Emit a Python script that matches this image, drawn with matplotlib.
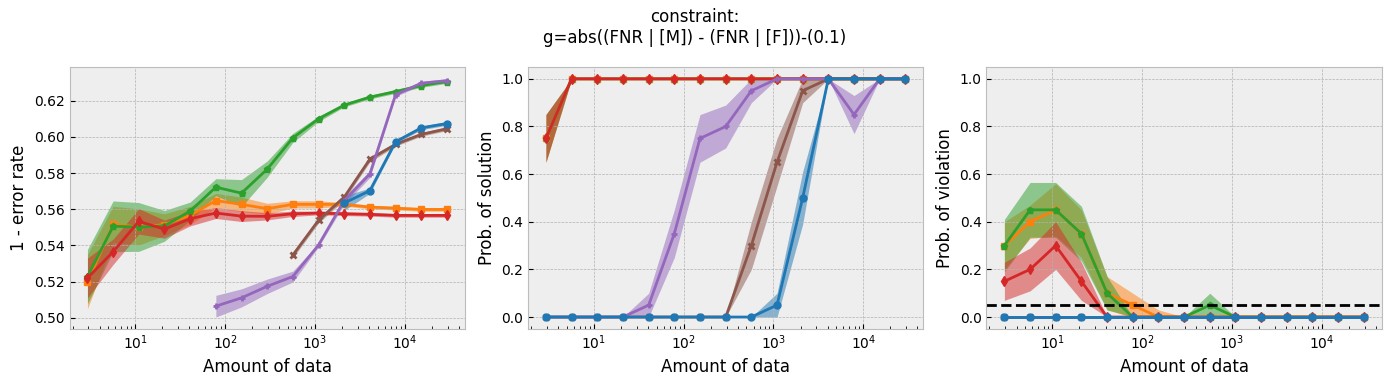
import numpy as np
import matplotlib
matplotlib.use("Agg")
import matplotlib.pyplot as plt

nan = np.nan

# amount of data (x)
n_data = [2.93, 5.66, 10.9, 21.1, 40.8, 78.7, 152, 294, 567, 1095, 2114, 4083, 7884, 15224, 29300]

# drawing order: later ones end up on top
names = ["orange", "green", "red", "brown", "purple", "blue"]
colors = {"blue": "#1f77b4", "orange": "#ff7f0e", "green": "#2ca02c",
          "red": "#d62728", "purple": "#9467bd", "brown": "#8c564b"}
markers = {"blue": "o", "orange": "s", "green": "p", "red": "d", "purple": "+", "brown": "x"}

# 1 - error rate
acc_mean = {
    "blue":   [nan]*10 + [0.5634, 0.5703, 0.5973, 0.6050, 0.6074],
    "orange": [0.520, 0.5517, 0.5502, 0.5515, 0.5566, 0.5648, 0.5627, 0.5603, 0.5627, 0.5627, 0.5627, 0.5612, 0.5606, 0.5599, 0.5599],
    "green":  [0.5228, 0.5506, 0.5502, 0.5508, 0.559, 0.5722, 0.5689, 0.5822, 0.5995, 0.610, 0.6176, 0.622, 0.6251, 0.6284, 0.6306],
    "red":    [0.522, 0.5365, 0.5533, 0.549, 0.5548, 0.5579, 0.5562, 0.5561, 0.5575, 0.5579, 0.5575, 0.5572, 0.5566, 0.5566, 0.5566],
    "purple": [nan]*5 + [0.5064, 0.511, 0.5174, 0.5228, 0.5402, 0.5648, 0.5795, 0.6233, 0.6297, 0.6311],
    "brown":  [nan]*8 + [0.5347, 0.5539, 0.5667, 0.5877, 0.5959, 0.6014, 0.6045],
}
acc_err = {
    "blue":   [nan]*10 + [0.004, 0.0015, 0.001, 0.001, 0.001],
    "orange": [0.015, 0.010, 0.010, 0.006, 0.005, 0.004, 0.004, 0.003, 0.002, 0.002, 0.001, 0.001, 0.001, 0.001, 0.001],
    "green":  [0.015, 0.014, 0.0135, 0.0085, 0.005, 0.0047, 0.0075, 0.0045, 0.0025, 0.0015, 0.001, 0.001, 0.001, 0.001, 0.001],
    "red":    [0.011, 0.007, 0.007, 0.005, 0.004, 0.003, 0.003, 0.002, 0.0015, 0.001, 0.001, 0.001, 0.001, 0.001, 0.001],
    "purple": [nan]*5 + [0.006, 0.005, 0.004, 0.003, 0.001, 0.002, 0.002, 0.001, 0.001, 0.001],
    "brown":  [nan]*8 + [0.0015, 0.0015, 0.0015, 0.0015, 0.001, 0.001, 0.001],
}

# probability of solution
sol_mean = {
    "blue":   [0, 0, 0, 0, 0, 0, 0, 0, 0, 0.05, 0.50, 1, 1, 1, 1],
    "orange": [0.75] + [1]*14,
    "green":  [0.75] + [1]*14,
    "red":    [0.75] + [1]*14,
    "purple": [0, 0, 0, 0, 0.05, 0.35, 0.75, 0.80, 0.95, 1, 1, 1, 0.85, 1, 1],
    "brown":  [0, 0, 0, 0, 0, 0, 0, 0, 0.30, 0.65, 0.95, 1, 1, 1, 1],
}
sol_err = {
    "blue":   [0]*9 + [0.05, 0.11, 0, 0, 0, 0],
    "orange": [0.1] + [0]*14,
    "green":  [0.1] + [0]*14,
    "red":    [0.1] + [0]*14,
    "purple": [0, 0, 0, 0, 0.05, 0.1, 0.1, 0.09, 0.05, 0, 0, 0, 0.08, 0, 0],
    "brown":  [0]*8 + [0.1, 0.1, 0.05, 0, 0, 0, 0],
}

# probability of violation
vio_mean = {
    "blue":   [0]*15,
    "orange": [0.30, 0.40, 0.45, 0.35, 0.10, 0.05, 0] + [0]*8,
    "green":  [0.30, 0.45, 0.45, 0.35, 0.10, 0, 0, 0, 0.05] + [0]*6,
    "red":    [0.15, 0.20, 0.30, 0.15, 0] + [0]*10,
    "purple": [0]*15,
    "brown":  [0]*15,
}
vio_err = {
    "blue":   [0]*15,
    "orange": [0.10, 0.07, 0.11, 0.10, 0.07, 0.05, 0.03] + [0]*8,
    "green":  [0.11, 0.115, 0.115, 0.115, 0.07, 0, 0, 0, 0.05] + [0]*6,
    "red":    [0.08, 0.09, 0.10, 0.08, 0] + [0]*10,
    "purple": [0]*15,
    "brown":  [0]*15,
}

plt.style.use("bmh")
plt.rcParams["font.family"] = "DejaVu Sans"

fig, axes = plt.subplots(1, 3, figsize=(13.9, 3.87), dpi=100)
fig.subplots_adjust(left=0.05, right=0.994, bottom=0.15, top=0.827, wspace=0.16)

panels = [
    (acc_mean, acc_err, "1 - error rate", False),
    (sol_mean, sol_err, "Prob. of solution", True),
    (vio_mean, vio_err, "Prob. of violation", True),
]

x = np.array(n_data)
for ax, (means, errs, ylabel, clip) in zip(axes, panels):
    for name in names:
        c, m = colors[name], markers[name]
        y = np.array(means[name], dtype=float)
        e = np.array(errs[name], dtype=float)
        lo, hi = y - e, y + e
        if clip:
            lo, hi = np.clip(lo, 0, 1), np.clip(hi, 0, 1)
        ax.fill_between(x, lo, hi, color=c, alpha=0.5, lw=0)
        ax.plot(x, y, color=c, marker=m, lw=2, ms=5, mew=2 if m in "+x" else 1)
    ax.set_xscale("log")
    ax.set_xlabel("Amount of data", fontsize=12)
    ax.set_ylabel(ylabel, fontsize=12)
    ax.tick_params(labelsize=10)

axes[2].axhline(0.05, color="black", ls="--", lw=2)
for ax in axes[1:]:
    ax.set_ylim(-0.05, 1.05)

fig.suptitle("constraint:\ng=abs((FNR | [M]) - (FNR | [F]))-(0.1)", fontsize=12, y=0.98)

fig.savefig("out.png")
